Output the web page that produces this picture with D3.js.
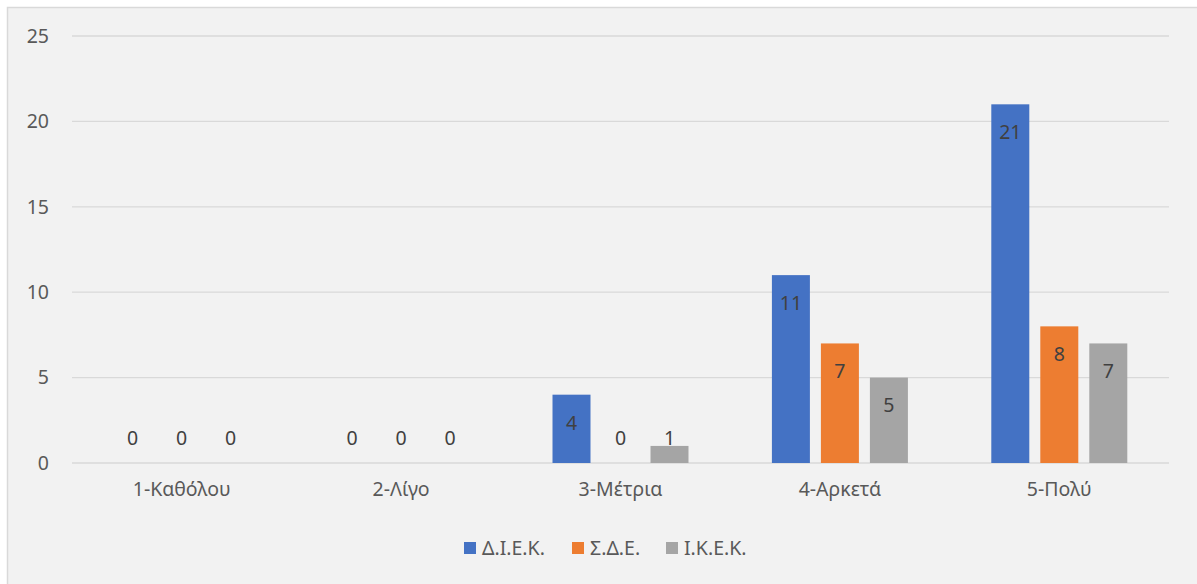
<!DOCTYPE html>
<html><head><meta charset="utf-8">
<script src="https://cdn.jsdelivr.net/npm/d3@7"></script>
<style>body{margin:0;background:#fff}svg{display:block}</style>
</head><body>
<svg id="c" width="1197" height="584"></svg>
<script>
const categories = ["1-Καθόλου","2-Λίγο","3-Μέτρια","4-Αρκετά","5-Πολύ"];
const seriesNames = ["Δ.Ι.Ε.Κ.","Σ.Δ.Ε.","Ι.Κ.Ε.Κ."];
const diek = [0,0,4,11,21];
const sde = [0,0,0,7,8];
const ikek = [0,0,1,5,7];
const yTicks = [0,5,10,15,20,25];
const colors = ["#4472C4","#ED7D31","#A5A5A5"];
const series = [diek, sde, ikek];

(function(){
const svg = d3.select("#c");
const font = "'Noto Sans', sans-serif";
const fs = 19.5;
svg.append("rect").attr("x",7.5).attr("y",7.5).attr("width",1250).attr("height",650)
  .attr("fill","#f2f2f2").attr("stroke","#d9d9d9").attr("stroke-width",1.5);

const pl=72, pr=1169, pt=36, pb=463;
const x = d3.scaleBand().domain(categories).range([pl,pr]).paddingInner(0).paddingOuter(0);
const y = d3.scaleLinear().domain([0,25]).range([pb,pt]);
const inner = d3.scaleBand().domain(d3.range(3)).range([0,136]).paddingInner(11/49).paddingOuter(0);
const groupOff = (x.bandwidth()-136)/2;

const g = svg.append("g");
g.selectAll("line.grid").data(yTicks).join("line")
  .attr("x1",pl).attr("x2",pr).attr("y1",d=>y(d)).attr("y2",d=>y(d))
  .attr("stroke","#d9d9d9").attr("stroke-width",1.3);

const yAxis = d3.axisLeft(y).tickValues(yTicks).tickSize(0).tickPadding(0);
const ya = svg.append("g").attr("transform",`translate(49,0)`).call(yAxis);
ya.select(".domain").remove();
ya.selectAll("text").attr("font-family",font).attr("font-size",fs).attr("fill","#595959");

const xAxis = d3.axisBottom(x).tickSize(0).tickPadding(0);
const xa = svg.append("g").attr("transform",`translate(0,482)`).call(xAxis);
xa.select(".domain").remove();
xa.selectAll("text").attr("font-family",font).attr("font-size",fs).attr("fill","#595959");

series.forEach((vals,si)=>{
  const sg = svg.append("g");
  sg.selectAll("rect").data(vals).join("rect")
    .attr("x",(d,i)=>x(categories[i])+groupOff+inner(si))
    .attr("width",inner.bandwidth())
    .attr("y",d=>y(d)).attr("height",d=>pb-y(d))
    .attr("fill",colors[si]);
  sg.selectAll("text").data(vals).join("text")
    .attr("x",(d,i)=>x(categories[i])+groupOff+inner(si)+inner.bandwidth()/2)
    .attr("y",d=>Math.min(y(d)+28, pb-25))
    .attr("dy","0.35em").attr("text-anchor","middle")
    .attr("font-family",font).attr("font-size",fs).attr("fill","#404040")
    .text(d=>d);
});

const legX = [464,572,666];
const lg = svg.append("g");
seriesNames.forEach((n,i)=>{
  lg.append("rect").attr("x",legX[i]).attr("y",542).attr("width",12).attr("height",12).attr("fill",colors[i]);
  lg.append("text").attr("x",legX[i]+18).attr("y",548).attr("dy","0.35em")
    .attr("font-family",font).attr("font-size",fs).attr("fill","#595959").text(n);
});
})();
</script>
</body></html>
